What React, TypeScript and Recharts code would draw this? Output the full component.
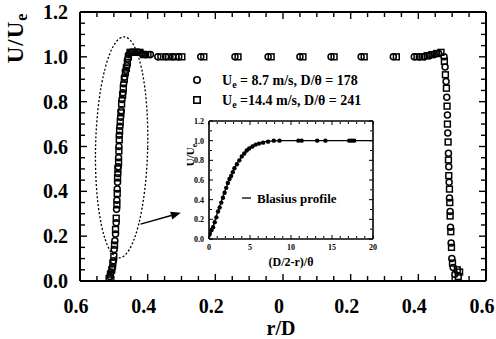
import React from "react";
import { ScatterChart, Scatter, XAxis, YAxis, ReferenceArea, ReferenceLine, Legend } from "recharts";

const FONT = '"Liberation Serif", "Times New Roman", serif';
const INK = "#000";

// main plot ticks
const xMajor = [-0.6, -0.4, -0.2, 0, 0.2, 0.4, 0.6];
const xMinor = [-0.55, -0.5, -0.45, -0.35, -0.3, -0.25, -0.15, -0.1, -0.05, 0.05, 0.1, 0.15, 0.25, 0.3, 0.35, 0.45, 0.5, 0.55];
const yMajor = [0, 0.2, 0.4, 0.6, 0.8, 1.0, 1.2];
const yMinor = [0.05, 0.1, 0.15, 0.25, 0.3, 0.35, 0.45, 0.5, 0.55, 0.65, 0.7, 0.75, 0.85, 0.9, 0.95, 1.05, 1.1, 1.15];

// inset ticks
const inXMajor = [0, 5, 10, 15, 20];
const inXMinor = [1, 2, 3, 4, 6, 7, 8, 9, 11, 12, 13, 14, 16, 17, 18, 19];
const inYMajor = [0, 0.2, 0.4, 0.6, 0.8, 1.0, 1.2];
const inYMinor = [0.1, 0.3, 0.5, 0.7, 0.9, 1.1];

const legendRows = [
  { shape: "circle", speed: "8.7", ratio: "178" },
  { shape: "square", speed: "14.4", ratio: "241" },
];

// Ue = 8.7 m/s (circles)
const lowSpeed = [
  { r: -0.512, u: 0.02 }, { r: -0.508, u: 0.04 }, { r: -0.504, u: 0.06 }, { r: -0.501, u: 0.09 },
  { r: -0.499, u: 0.14 }, { r: -0.497, u: 0.18 }, { r: -0.495, u: 0.21 }, { r: -0.493, u: 0.26 },
  { r: -0.492, u: 0.32 }, { r: -0.491, u: 0.36 }, { r: -0.49, u: 0.41 }, { r: -0.489, u: 0.44 },
  { r: -0.488, u: 0.48 }, { r: -0.487, u: 0.51 }, { r: -0.486, u: 0.55 }, { r: -0.485, u: 0.6 },
  { r: -0.484, u: 0.65 }, { r: -0.482, u: 0.69 }, { r: -0.48, u: 0.73 }, { r: -0.478, u: 0.76 },
  { r: -0.476, u: 0.81 }, { r: -0.473, u: 0.84 }, { r: -0.471, u: 0.88 }, { r: -0.468, u: 0.91 },
  { r: -0.464, u: 0.94 }, { r: -0.461, u: 0.96 }, { r: -0.459, u: 0.99 }, { r: -0.456, u: 1.01 },
  { r: -0.448, u: 1.02 }, { r: -0.438, u: 1.02 }, { r: -0.428, u: 1.02 }, { r: -0.418, u: 1.015 },
  { r: -0.406, u: 1.01 }, { r: -0.392, u: 1.01 }, { r: -0.37, u: 1.0 }, { r: -0.347, u: 1.0 },
  { r: -0.326, u: 1.0 }, { r: -0.308, u: 1.0 }, { r: -0.243, u: 1.0 }, { r: -0.142, u: 1.0 },
  { r: -0.044, u: 1.0 }, { r: 0.05, u: 1.0 }, { r: 0.142, u: 1.0 }, { r: 0.231, u: 1.0 },
  { r: 0.326, u: 1.0 }, { r: 0.388, u: 1.0 }, { r: 0.403, u: 1.0 }, { r: 0.418, u: 1.0 },
  { r: 0.433, u: 1.005 }, { r: 0.447, u: 1.01 }, { r: 0.46, u: 1.015 },
  { r: 0.476, u: 1.0 }, { r: 0.479, u: 0.955 }, { r: 0.482, u: 0.89 }, { r: 0.484, u: 0.82 },
  { r: 0.486, u: 0.74 }, { r: 0.487, u: 0.66 }, { r: 0.489, u: 0.57 }, { r: 0.49, u: 0.51 },
  { r: 0.491, u: 0.44 }, { r: 0.492, u: 0.37 }, { r: 0.494, u: 0.31 }, { r: 0.495, u: 0.24 },
  { r: 0.497, u: 0.17 }, { r: 0.499, u: 0.1 }, { r: 0.503, u: 0.06 }, { r: 0.508, u: 0.03 },
];

// Ue = 14.4 m/s (squares)
const highSpeed = [
  { r: -0.514, u: 0.01 }, { r: -0.51, u: 0.03 }, { r: -0.506, u: 0.05 }, { r: -0.503, u: 0.08 },
  { r: -0.5, u: 0.11 }, { r: -0.498, u: 0.16 }, { r: -0.495, u: 0.23 }, { r: -0.493, u: 0.28 },
  { r: -0.491, u: 0.34 }, { r: -0.49, u: 0.39 }, { r: -0.489, u: 0.46 }, { r: -0.488, u: 0.5 },
  { r: -0.486, u: 0.53 }, { r: -0.485, u: 0.58 }, { r: -0.484, u: 0.63 }, { r: -0.483, u: 0.67 },
  { r: -0.481, u: 0.71 }, { r: -0.479, u: 0.75 }, { r: -0.477, u: 0.79 }, { r: -0.474, u: 0.83 },
  { r: -0.472, u: 0.86 }, { r: -0.469, u: 0.9 }, { r: -0.466, u: 0.93 }, { r: -0.463, u: 0.95 },
  { r: -0.46, u: 0.975 }, { r: -0.457, u: 1.0 },
  { r: -0.452, u: 1.02 }, { r: -0.443, u: 1.02 }, { r: -0.433, u: 1.02 }, { r: -0.423, u: 1.02 },
  { r: -0.412, u: 1.01 }, { r: -0.399, u: 1.01 }, { r: -0.361, u: 1.0 }, { r: -0.338, u: 1.0 },
  { r: -0.317, u: 1.0 }, { r: -0.299, u: 1.0 }, { r: -0.234, u: 1.0 }, { r: -0.133, u: 1.0 },
  { r: -0.035, u: 1.0 }, { r: 0.059, u: 1.0 }, { r: 0.151, u: 1.0 }, { r: 0.24, u: 1.0 },
  { r: 0.335, u: 1.0 }, { r: 0.396, u: 1.0 }, { r: 0.411, u: 1.0 }, { r: 0.426, u: 1.005 },
  { r: 0.44, u: 1.01 }, { r: 0.454, u: 1.015 }, { r: 0.467, u: 1.02 },
  { r: 0.477, u: 0.98 }, { r: 0.48, u: 0.92 }, { r: 0.483, u: 0.86 }, { r: 0.485, u: 0.78 },
  { r: 0.486, u: 0.7 }, { r: 0.488, u: 0.62 }, { r: 0.489, u: 0.54 }, { r: 0.49, u: 0.47 },
  { r: 0.492, u: 0.41 }, { r: 0.493, u: 0.35 }, { r: 0.494, u: 0.29 }, { r: 0.496, u: 0.22 },
  { r: 0.498, u: 0.15 }, { r: 0.501, u: 0.08 }, { r: 0.515, u: 0.05 }, { r: 0.522, u: 0.04 },
  { r: 0.518, u: 0.02 },
];

// inset: measured points vs (D/2-r)/theta
const insetPoints = [
  { e: 0.1, u: 0.05 }, { e: 0.3, u: 0.09 }, { e: 0.5, u: 0.12 }, { e: 0.7, u: 0.17 },
  { e: 0.9, u: 0.22 }, { e: 1.1, u: 0.28 }, { e: 1.3, u: 0.32 }, { e: 1.5, u: 0.37 },
  { e: 1.7, u: 0.42 }, { e: 1.9, u: 0.47 }, { e: 2.1, u: 0.52 }, { e: 2.3, u: 0.57 },
  { e: 2.5, u: 0.61 }, { e: 2.7, u: 0.64 }, { e: 2.9, u: 0.68 }, { e: 3.1, u: 0.72 },
  { e: 3.4, u: 0.76 }, { e: 3.7, u: 0.8 }, { e: 4.0, u: 0.84 }, { e: 4.3, u: 0.87 },
  { e: 4.6, u: 0.9 }, { e: 4.9, u: 0.92 }, { e: 5.3, u: 0.94 }, { e: 5.7, u: 0.96 },
  { e: 6.1, u: 0.97 }, { e: 6.6, u: 0.98 }, { e: 7.2, u: 0.99 }, { e: 7.9, u: 1.0 },
  { e: 8.6, u: 1.0 }, { e: 10.9, u: 1.0 }, { e: 11.3, u: 1.0 }, { e: 13.2, u: 1.0 },
  { e: 14.2, u: 1.0 }, { e: 17.1, u: 1.0 }, { e: 17.4, u: 1.0 }, { e: 17.7, u: 1.0 },
];

const blasius = [
  { e: 0, u: 0 }, { e: 0.5, u: 0.13 }, { e: 1.0, u: 0.26 }, { e: 1.5, u: 0.38 },
  { e: 2.0, u: 0.5 }, { e: 2.5, u: 0.61 }, { e: 3.0, u: 0.7 }, { e: 3.5, u: 0.78 },
  { e: 4.0, u: 0.84 }, { e: 4.5, u: 0.89 }, { e: 5.0, u: 0.93 }, { e: 5.5, u: 0.955 },
  { e: 6.0, u: 0.97 }, { e: 6.5, u: 0.985 }, { e: 7.0, u: 0.993 }, { e: 8.0, u: 0.998 },
  { e: 9.0, u: 1.0 }, { e: 20, u: 1.0 },
];

const OpenCircle = (p: any) => (
  <circle cx={p.cx} cy={p.cy} r={3} fill="none" stroke={INK} strokeWidth={1.5} />
);
const OpenSquare = (p: any) => (
  <rect x={p.cx - 2.9} y={p.cy - 2.9} width={5.8} height={5.8} fill="none" stroke={INK} strokeWidth={1.5} />
);
const Dot = (p: any) => <circle cx={p.cx} cy={p.cy} r={2.2} fill={INK} />;
const NoShape = () => null;
const noText = () => "";

// inward tick marks + frame on all four sides; each axis pair carries a hidden series
function frame(pre: string, xKey: string, yKey: string, data: any[], xDom: number[], yDom: number[], xMaj: number[], xMin: number[], yMaj: number[], yMin: number[], big: number, small: number, sw: number) {
  const line = { stroke: INK, strokeWidth: sw };
  const tl = { stroke: INK, strokeWidth: Math.max(1, sw - 0.6) };
  const xs: [string, number[], number, boolean][] = [
    ["bottom", xMaj, big, false], ["bottom", xMin, small, false],
    ["top", xMaj, big, true], ["top", xMin, small, false],
  ];
  const ys: [string, number[], number, boolean][] = [
    ["left", yMaj, big, false], ["left", yMin, small, false],
    ["right", yMaj, big, true], ["right", yMin, small, false],
  ];
  const out: any[] = [];
  xs.forEach(([o, t, s, al], i) => {
    out.push(
      <XAxis key={`${pre}x${i}`} xAxisId={`${pre}x${i}`} dataKey={xKey} type="number" orientation={o as any} mirror height={1}
        domain={xDom} allowDataOverflow ticks={t} interval={0} tickSize={s} tickFormatter={noText}
        tickLine={tl} axisLine={al ? line : false} />
    );
  });
  ys.forEach(([o, t, s, al], i) => {
    out.push(
      <YAxis key={`${pre}y${i}`} yAxisId={`${pre}y${i}`} dataKey={yKey} type="number" orientation={o as any} mirror width={1}
        domain={yDom} allowDataOverflow ticks={t} interval={0} tickSize={s} tickFormatter={noText}
        tickLine={tl} axisLine={al ? line : false} />
    );
  });
  for (let i = 0; i < 4; i++) {
    out.push(
      <Scatter key={`${pre}s${i}`} xAxisId={`${pre}x${i}`} yAxisId={`${pre}y${i}`} data={data} shape={NoShape}
        isAnimationActive={false} legendType="none" />
    );
  }
  return out;
}

const EllipseShape = (p: any) => {
  const cx = p.x + p.width / 2;
  const cy = p.y + p.height / 2;
  return (
    <ellipse cx={cx} cy={cy} rx={p.width / 2} ry={p.height / 2} fill="none" stroke={INK}
      strokeWidth={1.3} strokeDasharray="2 2" transform={`rotate(1.3 ${cx} ${cy})`} />
  );
};

const ArrowShape = (p: any) => {
  const { x1, y1, x2, y2 } = p;
  const a = Math.atan2(y2 - y1, x2 - x1);
  const L = 10, W = 4;
  const bx = x2 - L * Math.cos(a), by = y2 - L * Math.sin(a);
  const pts = `${x2},${y2} ${bx + W * Math.sin(a)},${by - W * Math.cos(a)} ${bx - W * Math.sin(a)},${by + W * Math.cos(a)}`;
  return (
    <g>
      <line x1={x1} y1={y1} x2={bx} y2={by} stroke={INK} strokeWidth={1.4} />
      <polygon points={pts} fill={INK} />
    </g>
  );
};

const MainLegend = () => (
  <svg width={200} height={40} style={{ display: "block", overflow: "visible" }}>
    {legendRows.map((row, i) => {
      const cy = 10 + i * 20;
      return (
        <g key={row.speed}>
          {row.shape === "circle" ? (
            <circle cx={7} cy={cy} r={3.2} fill="none" stroke={INK} strokeWidth={1.6} />
          ) : (
            <rect x={3.8} y={cy - 3.2} width={6.4} height={6.4} fill="none" stroke={INK} strokeWidth={1.6} />
          )}
          <text x={32} y={cy + 5} fontFamily={FONT} fontSize={14} fontWeight={700} fill={INK}>
            U<tspan dy={3} fontSize={10}>e</tspan>
            <tspan dy={-3}>{row.speed.length > 3 ? ` =${row.speed} m/s, D/θ = ${row.ratio}` : ` = ${row.speed} m/s, D/θ = ${row.ratio}`}</tspan>
          </text>
        </g>
      );
    })}
  </svg>
);

const InsetLegend = () => (
  <svg width={110} height={20} style={{ display: "block", overflow: "visible" }}>
    <line x1={0} y1={8} x2={9} y2={8} stroke={INK} strokeWidth={1.3} />
    <text x={15} y={12.5} fontFamily={FONT} fontSize={13} fontWeight={700} fill={INK}>Blasius profile</text>
  </svg>
);

const mainTick = { fontSize: 20, fontWeight: 700, fill: INK, fontFamily: FONT };
const insetTick = { fontSize: 8, fontWeight: 700, fill: INK, fontFamily: FONT };

function Inset() {
  return (
    <div style={{ position: "absolute", left: 178, top: 115 }}>
      <ScatterChart width={202} height={155} margin={{ top: 6, right: 7, left: 7, bottom: 0 }}>
        <XAxis xAxisId="x" type="number" dataKey="e" domain={[0, 20]} allowDataOverflow ticks={inXMajor} interval={0}
          tickLine={false} tickSize={2} tickMargin={3} axisLine={{ stroke: INK, strokeWidth: 1.6 }} height={31}
          tick={insetTick}
          label={{
            content: (p: any) => (
              <text x={p.viewBox.x + p.viewBox.width / 2} y={p.viewBox.y + 27} textAnchor="middle"
                fontFamily={FONT} fontSize={12} fontWeight={700} fill={INK}>(D/2-r)/θ</text>
            ),
          }} />
        <YAxis yAxisId="y" type="number" dataKey="u" domain={[0, 1.2]} allowDataOverflow ticks={inYMajor} interval={0}
          tickLine={false} tickSize={2} tickMargin={3} axisLine={{ stroke: INK, strokeWidth: 1.6 }} width={24}
          tick={insetTick} tickFormatter={(v: number) => v.toFixed(1)}
          label={{
            content: () => {
              const x = 16, y = 40;
              return (
                <text x={x} y={y} transform={`rotate(-90 ${x} ${y})`} textAnchor="middle"
                  fontFamily={FONT} fontSize={11} fontWeight={700} fill={INK}>
                  U/U<tspan dy={2.5} fontSize={8}>e</tspan>
                </text>
              );
            },
          }} />
        {frame("in", "e", "u", insetPoints, [0, 20], [0, 1.2], inXMajor, inXMinor, inYMajor, inYMinor, 4, 2, 1.6)}
        <Scatter xAxisId="x" yAxisId="y" data={blasius} line={{ stroke: INK, strokeWidth: 1.3 }} lineType="joint"
          shape={NoShape} isAnimationActive={false} legendType="none" />
        <Scatter xAxisId="x" yAxisId="y" data={insetPoints} shape={Dot} isAnimationActive={false} legendType="none" />
        <Legend layout="vertical" align="center" verticalAlign="middle" content={() => <InsetLegend />}
          wrapperStyle={{ position: "absolute", left: 64, top: 75, width: 110, height: 20 }} />
      </ScatterChart>
    </div>
  );
}

export default function App() {
  return (
    <div style={{ position: "relative", width: 496, height: 339, background: "#fff", fontFamily: FONT }}>
      <style>{`body{margin:0}`}</style>
      <ScatterChart width={496} height={339} margin={{ top: 12, right: 10, left: 0, bottom: 0 }}>
        <XAxis xAxisId="x" type="number" dataKey="r" domain={[-0.6, 0.6]} allowDataOverflow ticks={xMajor} interval={0}
          tickLine={false} tickSize={6} tickMargin={12} axisLine={{ stroke: INK, strokeWidth: 2 }} height={58}
          tick={{ ...mainTick, dx: -4 }} tickFormatter={(v: number) => (v === 0 ? "0" : Math.abs(v).toFixed(1))}
          label={{
            content: (p: any) => (
              <text x={p.viewBox.x + p.viewBox.width / 2 - 2} y={p.viewBox.y + 54} textAnchor="middle"
                fontFamily={FONT} fontSize={20} fontWeight={700} fill={INK}>r/D</text>
            ),
          }} />
        <YAxis yAxisId="y" type="number" dataKey="u" domain={[0, 1.2]} allowDataOverflow ticks={yMajor} interval={0}
          tickLine={false} tickSize={6} tickMargin={6} axisLine={{ stroke: INK, strokeWidth: 2 }} width={80}
          tick={mainTick} tickFormatter={(v: number) => v.toFixed(1)}
          label={{
            content: () => {
              const x = 23, y = 38;
              return (
                <text x={x} y={y} transform={`rotate(-90 ${x} ${y})`} textAnchor="middle"
                  fontFamily={FONT} fontSize={23} fontWeight={700} fill={INK} letterSpacing={1}>
                  U/U<tspan dy={4} fontSize={16}>e</tspan>
                </text>
              );
            },
          }} />
        {frame("m", "r", "u", lowSpeed, [-0.6, 0.6], [0, 1.2], xMajor, xMinor, yMajor, yMinor, 7, 4, 2)}
        <ReferenceArea xAxisId="x" yAxisId="y" x1={-0.554} x2={-0.4} y1={0.103} y2={1.089} shape={EllipseShape} ifOverflow="visible" />
        <ReferenceLine xAxisId="x" yAxisId="y" segment={[{ x: -0.421, y: 0.254 }, { x: -0.302, y: 0.304 }]} shape={ArrowShape} ifOverflow="visible" />
        <Scatter name="Ue = 8.7 m/s" xAxisId="x" yAxisId="y" data={lowSpeed} shape={OpenCircle} isAnimationActive={false} />
        <Scatter name="Ue = 14.4 m/s" xAxisId="x" yAxisId="y" data={highSpeed} shape={OpenSquare} isAnimationActive={false} />
        <Legend layout="vertical" align="center" verticalAlign="middle" content={() => <MainLegend />}
          wrapperStyle={{ position: "absolute", left: 190, top: 70, width: 200, height: 40 }} />
      </ScatterChart>
      <Inset />
    </div>
  );
}
